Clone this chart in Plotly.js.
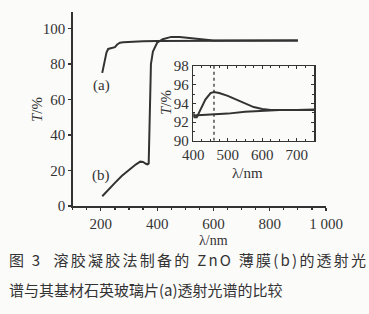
<!DOCTYPE html>
<html>
<head>
<meta charset="utf-8">
<script src="https://cdn.plot.ly/plotly-3.0.1.min.js"></script>
<style>
html,body{margin:0;padding:0;background:#fbfbfa;}
#chart{width:369px;height:314px;}
</style>
</head>
<body>
<div id="chart"></div>
<script>
// ---- data ----
const wlA = [205, 212, 220, 226, 240, 250, 258, 268, 280, 300, 350, 400, 500, 600, 700, 800, 900];
const tA  = [75, 80, 86.5, 88.5, 89, 89.5, 91, 92, 92.3, 92.5, 92.8, 93, 93.1, 93.2, 93.3, 93.3, 93.3];

const wlB = [205, 225, 250, 275, 300, 325, 340, 350, 360, 366, 370, 373, 378, 385, 400, 420, 450, 480, 520, 560, 600, 700, 800, 900];
const tB  = [5.5, 9, 13, 17, 20.5, 23.5, 25, 24.8, 23.8, 23.5, 24, 50, 80, 87, 92, 94, 95.3, 95.2, 94.5, 93.7, 93.3, 93.2, 93.2, 93.3];

const inWlA = [400, 450, 500, 550, 600, 650, 700, 750];
const inTA  = [92.7, 92.8, 92.9, 93.1, 93.2, 93.3, 93.3, 93.35];

const inWlB = [400, 403, 410, 420, 435, 450, 460, 475, 500, 525, 550, 575, 600, 625, 650, 700, 750];
const inTB  = [93.0, 92.5, 92.5, 93.2, 94.4, 95.1, 95.2, 95.1, 94.8, 94.4, 94.0, 93.6, 93.4, 93.3, 93.3, 93.3, 93.3];

const peakWl = [460, 460];
const peakT  = [90, 98];

const mainXTicks = [200, 400, 600, 800, 1000];
const mainYTicks = [0, 20, 40, 60, 80, 100];
const inXTicks = [400, 500, 600, 700];
const inYTicks = [90, 92, 94, 96, 98];

const caption1 = "图 3  溶胶凝胶法制备的 ZnO 薄膜(b)的透射光";
const caption2 = "谱与其基材石英玻璃片(a)透射光谱的比较";

// ---- styling ----
const ink = '#333333';
const serif = 'Liberation Serif, Times New Roman, serif';
const cjk = 'Noto Sans CJK SC, sans-serif';
const lineStyle = {color: ink, width: 2};
const tf = {family: serif, size: 15, color: ink};

const traces = [
  {x: wlA, y: tA, mode: 'lines', line: lineStyle, xaxis: 'x', yaxis: 'y', name: '(a)'},
  {x: wlB, y: tB, mode: 'lines', line: lineStyle, xaxis: 'x', yaxis: 'y', name: '(b)'},
  {x: inWlA, y: inTA, mode: 'lines', line: lineStyle, xaxis: 'x2', yaxis: 'y2', name: '(a) inset'},
  {x: inWlB, y: inTB, mode: 'lines', line: lineStyle, xaxis: 'x2', yaxis: 'y2', name: '(b) inset'},
  {x: peakWl, y: peakT, mode: 'lines', line: {color: ink, width: 1.3, dash: 'dot'}, xaxis: 'x2', yaxis: 'y2', name: 'peak'}
];

const W = 369, H = 314;
function ann(text, x, y, extra) {
  return Object.assign({text: text, xref: 'paper', yref: 'paper', x: x / W, y: 1 - y / H,
    xanchor: 'center', yanchor: 'middle', showarrow: false, font: tf}, extra || {});
}
const layout = {
  width: W, height: H,
  margin: {l: 0, r: 0, t: 0, b: 0},
  paper_bgcolor: '#fbfbfa',
  plot_bgcolor: 'rgba(0,0,0,0)',
  showlegend: false,
  separators: '. ',
  font: tf,
  xaxis: {
    domain: [72.7 / W, 326 / W], range: [100, 1000],
    tickvals: mainXTicks, separatethousands: true,
    showline: true, linecolor: ink, linewidth: 1.5, mirror: false,
    ticks: 'outside', ticklen: 3, tickwidth: 1.2, tickcolor: ink,
    minor: {ticks: 'outside', ticklen: 2, dtick: 50, tickcolor: ink},
    showgrid: false, zeroline: false, tickfont: tf
  },
  yaxis: {
    domain: [1 - 206 / H, 1 - 11.7 / H], range: [0, 109.5],
    tickvals: mainYTicks,
    showline: true, linecolor: ink, linewidth: 1.5, mirror: false,
    ticks: 'outside', ticklen: 3, tickwidth: 1.2, tickcolor: ink,
    showgrid: false, zeroline: false, tickfont: tf
  },
  xaxis2: {
    anchor: 'y2',
    domain: [193.3 / W, 314 / W], range: [400, 750],
    tickvals: inXTicks,
    showline: true, linecolor: ink, linewidth: 1.5, mirror: 'ticks',
    ticks: 'inside', ticklen: 3, tickwidth: 1, tickcolor: ink,
    minor: {ticks: 'inside', ticklen: 2, dtick: 25, tickcolor: ink},
    showgrid: false, zeroline: false, tickfont: tf
  },
  yaxis2: {
    anchor: 'x2',
    domain: [1 - 140.7 / H, 1 - 66 / H], range: [90, 98],
    tickvals: inYTicks,
    showline: true, linecolor: ink, linewidth: 1.5, mirror: 'ticks',
    ticks: 'inside', ticklen: 3, tickwidth: 1, tickcolor: ink,
    minor: {ticks: 'inside', ticklen: 2, dtick: 1, tickcolor: ink},
    showgrid: false, zeroline: false, tickfont: tf
  },
  annotations: [
    ann('<i>T</i>/%', 37, 110, {textangle: -90}),
    ann('λ/nm', 213, 240, {font: {family: serif, size: 14, color: ink}}),
    ann('<i>T</i>/%', 166, 103, {textangle: -90}),
    ann('λ/nm', 247, 173),
    {text: '(a)', xref: 'x', yref: 'y', x: 204, y: 68, xanchor: 'center', yanchor: 'middle', showarrow: false, font: tf},
    {text: '(b)', xref: 'x', yref: 'y', x: 202, y: 17, xanchor: 'center', yanchor: 'middle', showarrow: false, font: tf},
    ann(caption1, 7, 259, {xanchor: 'left', font: {family: cjk, size: 15, color: ink}}),
    ann(caption2, 7, 289, {xanchor: 'left', font: {family: cjk, size: 15, color: ink}})
  ]
};

Plotly.newPlot('chart', traces, layout, {staticPlot: true}).then(function (gd) {
  // justify the first caption line to the full text width, as in the print
  const texts = gd.querySelectorAll('.annotation-text');
  texts.forEach(function (t) {
    if (t.textContent === caption1) {
      const len = t.getComputedTextLength();
      const target = 357;
      const n = caption1.length;
      const x0 = parseFloat(t.getAttribute('x')) - len / 2;
      if (len < target) t.setAttribute('letter-spacing', ((target - len) / (n - 1)).toFixed(2) + 'px');
      t.setAttribute('text-anchor', 'start');
      t.setAttribute('x', x0);
      t.querySelectorAll('tspan').forEach(function (s) { if (s.getAttribute('x') !== null) s.setAttribute('x', x0); });
    }
  });
});
</script>
</body>
</html>
